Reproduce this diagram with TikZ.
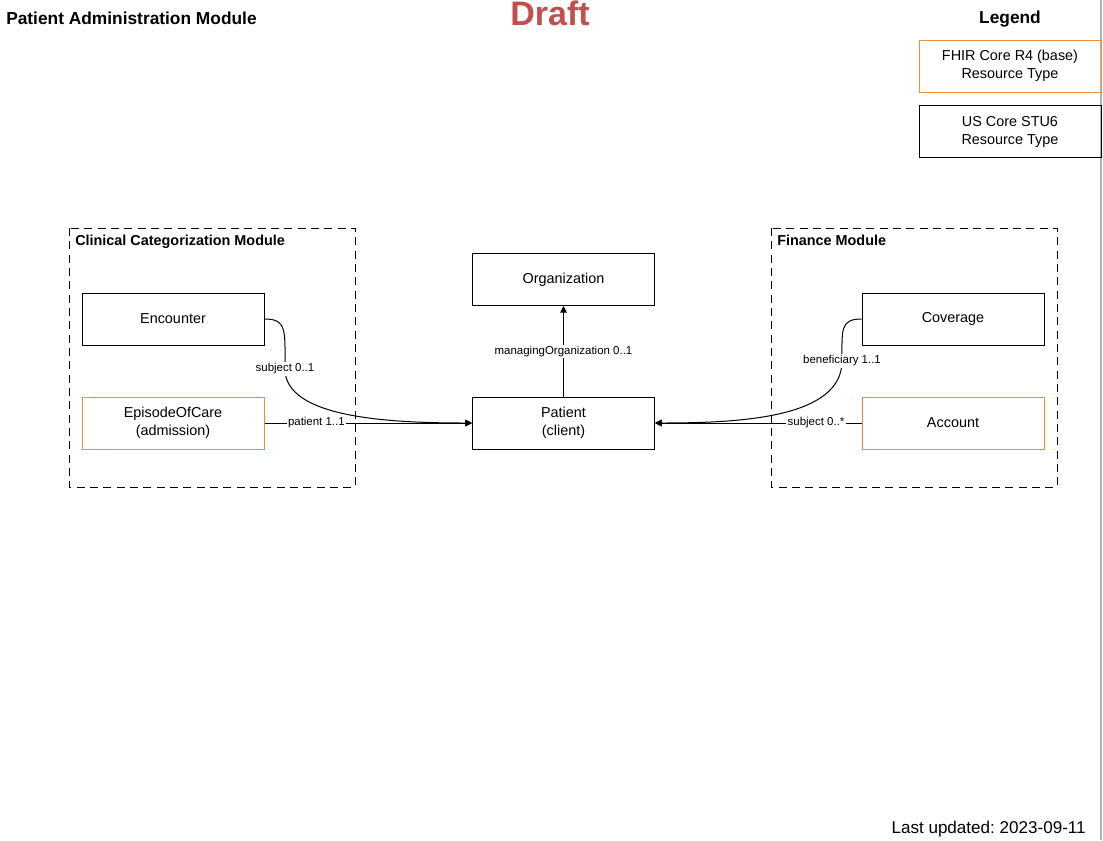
\documentclass[tikz,border=0pt]{standalone}
\usepackage{fontspec}
\setmainfont{Liberation Sans}
\usetikzlibrary{calc,positioning,arrows.meta,shapes}
\definecolor{fhirorange}{RGB}{242,140,60}
\definecolor{draftred}{RGB}{192,80,77}
\frenchspacing

\begin{document}
\begin{tikzpicture}[
x=0.75pt,y=-0.75pt,
>={Triangle[length=5pt,width=5pt]},
resource/.style={
	draw,
	line width=0.75pt,
	rectangle,
	minimum width=136.5pt,
	minimum height=39pt,
	align=center,
	font=\fontsize{10.8}{13.5}\selectfont
},
base/.style={
	resource,
	draw=fhirorange
},
module/.style={
	draw,
	line width=0.75pt,
	dash pattern=on 6pt off 4pt
},
modlabel/.style={
	anchor=north west,
	inner sep=0pt,
	font=\fontsize{10.8}{13}\selectfont\bfseries
},
reference/.style={
	->,
	line width=0.75pt
},
card/.style={
	fill=white,
	inner sep=1pt,
	font=\fontsize{8.6}{10}\selectfont
}
]
\useasboundingbox (0,0) rectangle (1103,840);
\draw[black!30,line width=1.5pt] (1101,0) -- (1101,840);

% titles
\node[anchor=west,inner sep=0pt,font=\fontsize{13}{15}\selectfont\bfseries] (title) at (6,18) {Patient Administration Module};
\node[inner sep=0pt,text=draftred,font=\fontsize{25.5}{28}\selectfont\bfseries] (draft) at (550,13) {Draft};
\node[inner sep=0pt,font=\fontsize{13}{15}\selectfont\bfseries] (legend) at (1010,19) {Legend};
\node[anchor=base east,inner sep=0pt,font=\fontsize{12.8}{15}\selectfont] (updated) at (1086,833) {Last updated: 2023-09-11};

% legend
\node[base] (lgbase) at (1010,66) {FHIR Core R4 (base)\\Resource Type};
\node[resource] (lgus) at (1010,131.5) {US Core STU6\\Resource Type};

% modules
\draw[module] (69,228) rectangle (355,487);
\node[modlabel] (clinical) at (75,235) {Clinical Categorization Module};
\draw[module] (771,228) rectangle (1057,487);
\node[modlabel] (finance) at (777,235) {Finance Module};

% resources
\node[resource] (encounter) at (173,319) {Encounter};
\node[base] (episode) at (173,423) {EpisodeOfCare\\(admission)};
\node[resource] (organization) at (563.5,279.5) {Organization};
\node[resource] (patient) at (563.5,423) {Patient\\(client)};
\node[resource] (coverage) at (953,319) {Coverage};
\node[base] (account) at (953,423) {Account};

\coordinate (encbend) at (285,369);
\coordinate (covbend) at (842,361);

\draw[reference] (encounter.east) .. controls (287,319) and (285,330) .. (encbend)
	.. controls (285,418) and (390,423) .. (patient.west);
\node[card] at (encbend) {subject 0..1};
\draw[reference] (episode) -- node[card,pos=0.25] {patient 1..1} (patient);
\draw[reference] (patient) -- node[card] {managingOrganization 0..1} (organization);
\draw[reference] (coverage.west) .. controls (840,319) and (842,330) .. (covbend)
	.. controls (842,418) and (740,423) .. (patient.east);
\node[card] at (covbend) {beneficiary 1..1};
\draw[reference] (account) -- node[card,pos=0.22] {subject 0..*} (patient);
\end{tikzpicture}
\end{document}
